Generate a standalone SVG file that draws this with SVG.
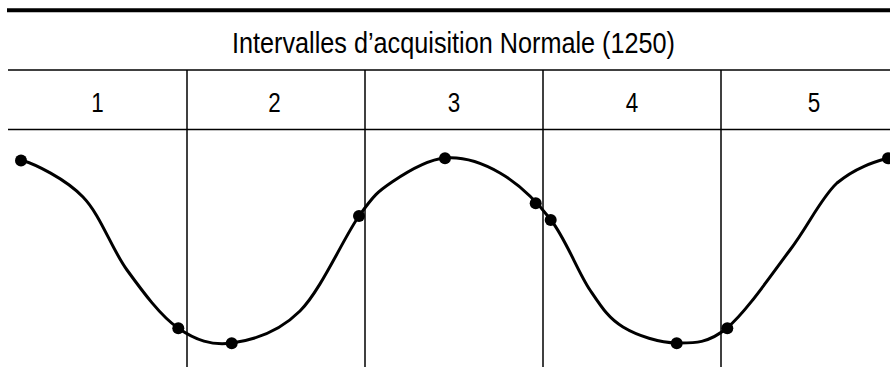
<svg xmlns="http://www.w3.org/2000/svg" width="890" height="367" viewBox="0 0 890 367">
<style>
.grid{stroke:#000;stroke-width:1.5;fill:none}
.wave{stroke:#000;stroke-width:3;fill:none;stroke-linejoin:round}
.dot{fill:#000}
.t{font-family:"Liberation Sans",Arial,sans-serif;fill:#000;text-anchor:middle}
</style>
<rect width="890" height="367" fill="#fff"/>
<g id="frame">
<line x1="7" y1="10.3" x2="890" y2="10.3" stroke="#000" stroke-width="4"/>
<line class="grid" x1="8" y1="70" x2="890" y2="70"/>
<line class="grid" x1="8" y1="129.5" x2="890" y2="129.5"/>
<line class="grid" x1="187" y1="70" x2="187" y2="367"/>
<line class="grid" x1="365" y1="70" x2="365" y2="367"/>
<line class="grid" x1="543" y1="70" x2="543" y2="367"/>
<line class="grid" x1="721" y1="70" x2="721" y2="367"/>
</g>
<g id="header"><text class="t" x="453.5" y="53" font-size="30" textLength="443" lengthAdjust="spacingAndGlyphs">Intervalles d’acquisition Normale (1250)</text></g>
<g id="cells">
<text class="t" x="97.5" y="112" font-size="27" textLength="12.5" lengthAdjust="spacingAndGlyphs">1</text>
<text class="t" x="274.5" y="112" font-size="27" textLength="12.5" lengthAdjust="spacingAndGlyphs">2</text>
<text class="t" x="454" y="112" font-size="27" textLength="12.5" lengthAdjust="spacingAndGlyphs">3</text>
<text class="t" x="632" y="112" font-size="27" textLength="12.5" lengthAdjust="spacingAndGlyphs">4</text>
<text class="t" x="814" y="112" font-size="27" textLength="12.5" lengthAdjust="spacingAndGlyphs">5</text>
</g>
<g id="connectors">
<path class="wave" d="M21,160 C35,164 65.3,178.7 83,197 C100.7,215.3 111.2,248.2 127,270 C142.8,291.8 160.5,315.8 178,328 C195.5,340.2 211.7,345.8 232,343 C252.3,340.2 278.8,332.2 300,311 C321.2,289.8 343.7,237.5 359,216 C374.3,194.5 377.7,191.7 392,182 C406.3,172.3 427,159.5 445,158 C463,156.5 482.3,162.7 500,173 C517.7,183.3 536,200.5 551,220 C566,239.5 578,272.2 590,290 C602,307.8 608.5,318.2 623,327 C637.5,335.8 659.7,342.8 677,343 C694.3,343.2 708.2,343.5 727,328 C745.8,312.5 771.7,274.2 790,250 C808.3,225.8 820.7,198.3 837,183 C855.3,167.7 874,162 888,158"/>
</g>
<g id="samples">
<circle class="dot" cx="21" cy="160.5" r="6"/>
<circle class="dot" cx="178.3" cy="328.3" r="6"/>
<circle class="dot" cx="231.7" cy="343.3" r="6"/>
<circle class="dot" cx="359" cy="216" r="6"/>
<circle class="dot" cx="445" cy="158.3" r="6"/>
<circle class="dot" cx="535.7" cy="203.3" r="6"/>
<circle class="dot" cx="550.7" cy="220" r="6"/>
<circle class="dot" cx="676.7" cy="343.3" r="6"/>
<circle class="dot" cx="727.3" cy="328.3" r="6"/>
<circle class="dot" cx="888" cy="158.3" r="6"/>
</g>
</svg>
